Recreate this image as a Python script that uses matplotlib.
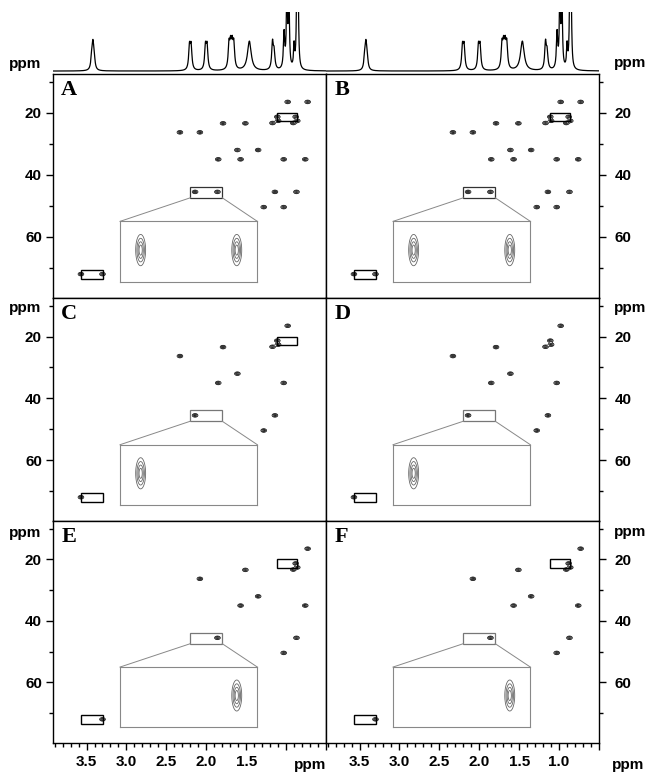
import numpy as np
import matplotlib
matplotlib.use('Agg')
import matplotlib.pyplot as plt
from matplotlib.patches import Rectangle

# 1D proton spectrum on top: line positions (ppm), heights, half widths
spec_ppm = [3.435, 3.42, 3.405, 2.21, 2.19, 2.01, 1.99, 1.715, 1.695, 1.675,
            1.655, 1.46, 1.17, 1.15, 1.025, 0.99, 0.965, 0.90, 0.865, 0.85]
spec_height = [0.20, 0.38, 0.20, 0.39, 0.39, 0.39, 0.39, 0.40, 0.36, 0.36,
               0.40, 0.50, 0.45, 0.28, 0.60, 1.30, 1.30, 0.38, 1.30, 1.30]
spec_width = [0.012, 0.012, 0.012, 0.012, 0.012, 0.012, 0.012, 0.012, 0.012, 0.012,
              0.012, 0.028, 0.012, 0.012, 0.010, 0.008, 0.008, 0.008, 0.008, 0.008]

# coupled HSQC cross peaks: 13C shift, downfield and upfield 1H components
peak_c = [16.5, 21.3, 22.6, 23.3, 26.3, 23.4, 32.0, 35.0, 35.0, 45.5, 50.4, 45.5, 72.0]
peak_h_left = [0.98, 1.11, 1.10, 1.17, 2.33, 1.79, 1.61, 1.85, 1.03, 1.14, 1.28, 2.14, 3.57]
peak_h_right = [0.73, 0.88, 0.86, 0.91, 2.08, 1.51, 1.35, 1.57, 0.76, 0.87, 1.03, 1.86, 3.30]

panels = ['A', 'B', 'C', 'D', 'E', 'F']
components = ['both', 'both', 'left', 'left', 'right', 'right']
has_box20 = [True, True, True, False, True, True]

xtick_vals = [0.5, 1.0, 1.5, 2.0, 2.5, 3.0, 3.5]
xtick_labels_E = ['', '', '1.5', '2.0', '2.5', '3.0', '3.5']
xtick_labels_F = ['', '1.0', '1.5', '2.0', '2.5', '3.0', '3.5']

H_LIM = (3.92, 0.5)
C_LIM = (79.7, 7.5)

W, HH = 647, 774
fig = plt.figure(figsize=(W / 100, HH / 100), dpi=100)
TICKFONT = dict(family='Liberation Sans', fontweight='bold', fontsize=11)


def px_axes(x, y, w, h):
    return fig.add_axes([x / W, 1 - (y + h) / HH, w / W, h / HH])


def cross_peaks(hs, cs, hg, cg, sh, sc):
    Hm, Cm = np.meshgrid(hg, cg)
    Z = np.zeros_like(Hm)
    for h, c in zip(hs, cs):
        Z += np.exp(-0.5 * ((Hm - h) / sh) ** 2 - 0.5 * ((Cm - c) / sc) ** 2)
    return Z


col_x = [53, 326]
col_w = 273
row_y = [74, 298, 521]
row_h = [224, 223, 222]

# top 1D spectra
xs = np.linspace(0.5, 3.92, 3000)
spec = np.zeros_like(xs)
for p, h, w in zip(spec_ppm, spec_height, spec_width):
    spec += h / (1 + ((xs - p) / w) ** 2)
for cx in col_x:
    sax = px_axes(cx, 12, col_w, 62)
    sax.plot(xs, spec, color='k', lw=0.9)
    sax.set_xlim(*H_LIM)
    sax.set_ylim(-0.05, 1.0)
    sax.axis('off')

hg = np.linspace(0.5, 3.92, 900)
cg = np.linspace(7.5, 80, 800)
hg_in = np.linspace(1.80, 2.20, 300)
cg_in = np.linspace(43.8, 47.4, 300)

for i, name in enumerate(panels):
    row, col = i // 2, i % 2
    ax = px_axes(col_x[col], row_y[row], col_w, row_h[row])
    ax.set_xlim(*H_LIM)
    ax.set_ylim(*C_LIM)

    hs, cs = [], []
    if components[i] in ('both', 'left'):
        hs += peak_h_left
        cs += peak_c
    if components[i] in ('both', 'right'):
        hs += peak_h_right
        cs += peak_c
    Z = cross_peaks(hs, cs, hg, cg, 0.02, 0.33)
    ax.contour(hg, cg, Z, levels=[0.2, 0.5, 0.85], colors='k', linewidths=0.5)

    # boxes
    ax.add_patch(Rectangle((3.29, 70.6), 0.28, 2.9, fill=False, ec='k', lw=1.0))
    if has_box20[i]:
        ax.add_patch(Rectangle((0.86, 20.0), 0.25, 2.8, fill=False, ec='k', lw=1.0))
    small_col = '#333333' if i < 2 else '#777777'
    ax.add_patch(Rectangle((1.80, 43.8), 0.40, 3.6, fill=False, ec=small_col, lw=0.9))
    ax.plot([2.20, 3.08], [47.4, 55.0], color='#888888', lw=0.7)
    ax.plot([1.80, 1.36], [47.4, 55.0], color='#888888', lw=0.7)

    # zoomed inset
    p1 = ax.transLimits.transform((3.08, 55.0))
    p2 = ax.transLimits.transform((1.36, 74.6))
    iax = ax.inset_axes([min(p1[0], p2[0]), min(p1[1], p2[1]),
                         abs(p2[0] - p1[0]), abs(p2[1] - p1[1])])
    Zi = cross_peaks(hs, cs, hg_in, cg_in, 0.007, 0.45)
    iax.contour(hg_in, cg_in, Zi, levels=[0.12, 0.3, 0.55, 0.8],
                colors='#666666', linewidths=0.6)
    iax.set_xlim(2.20, 1.80)
    iax.set_ylim(47.4, 43.8)
    iax.set_xticks([])
    iax.set_yticks([])
    for s in iax.spines.values():
        s.set_color('#888888')
        s.set_linewidth(0.8)

    for s in ax.spines.values():
        s.set_linewidth(1.0)

    ax.set_yticks([20, 40, 60])
    ax.set_yticks([10, 30, 50, 70], minor=True)
    if col == 0:
        ax.yaxis.tick_left()
        ax.tick_params(axis='y', which='major', length=5, width=1, pad=3)
    else:
        ax.yaxis.tick_right()
        ax.tick_params(axis='y', which='major', length=5, width=1, pad=6)
    ax.tick_params(axis='y', which='minor', length=3, width=1)
    for t in ax.get_yticklabels():
        t.set(**TICKFONT)

    ax.set_xticks(xtick_vals)
    ax.set_xticks(np.round(np.arange(0.6, 3.95, 0.1), 1), minor=True)
    if row == 2:
        ax.set_xticklabels(xtick_labels_E if col == 0 else xtick_labels_F, **TICKFONT)
        ax.tick_params(axis='x', which='major', length=5, width=1, pad=4)
        ax.tick_params(axis='x', which='minor', length=3, width=1)
    else:
        ax.tick_params(axis='x', which='both', bottom=False, labelbottom=False)

    ax.text(0.03, 0.975, name, transform=ax.transAxes, va='top', ha='left',
            fontsize=16, fontweight='bold', family='Liberation Serif')

# "ppm" axis labels
for (x, y) in [(25, 64), (25, 308), (25, 533), (630, 63), (630, 308), (630, 532),
               (310, 765), (628, 765)]:
    fig.text(x / W, 1 - y / HH, 'ppm', ha='center', va='center', **TICKFONT)

fig.savefig('out.png', dpi=100, facecolor='white')
